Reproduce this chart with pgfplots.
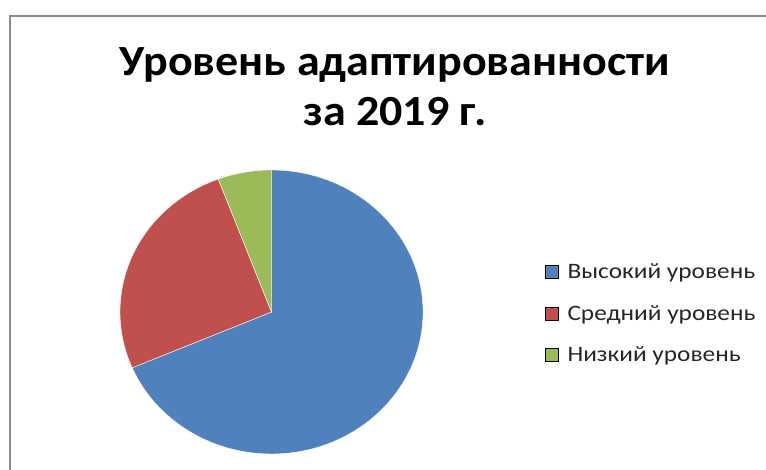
\documentclass[border=0pt]{standalone}
\usepackage{fontspec}
\setmainfont{Carlito}
\usepackage{graphicx}
\usepackage{pgfplots}
\usepackage{pgfplotstable}
\pgfplotsset{compat=1.18}

\definecolor{hiblue}{HTML}{4F81BD}
\definecolor{midred}{HTML}{C0504D}
\definecolor{logreen}{HTML}{9BBB59}

% adaptation levels, 2019 (number of children)
\pgfplotstableread{
level count
high 24
mid 9
low 2
}\adaptdata

\newcommand{\wide}[1]{\scalebox{1.07}[1]{#1}}
\newcommand{\legwide}[1]{\scalebox{1.15}[1]{#1}}

\begin{document}
\begin{tikzpicture}
\pgfplotstablegetelem{0}{count}\of\adaptdata \let\nHigh\pgfplotsretval
\pgfplotstablegetelem{1}{count}\of\adaptdata \let\nMid\pgfplotsretval
\pgfplotstablegetelem{2}{count}\of\adaptdata \let\nLow\pgfplotsretval
\pgfmathsetmacro\nTotal{\nHigh+\nMid+\nLow}
\pgfmathsetmacro\angA{90}
\pgfmathsetmacro\angB{\angA-360*\nHigh/\nTotal}
\pgfmathsetmacro\angC{\angB-360*\nMid/\nTotal}
\pgfmathsetmacro\angD{\angC-360*\nLow/\nTotal}
\path[use as bounding box] (0pt,0pt) rectangle (766pt,470pt);
\clip (0pt,0pt) rectangle (766pt,470pt);
\fill[white] (0pt,0pt) rectangle (766pt,470pt);
\draw[black!45, line width=1.8pt] (10pt,-5pt) -- (10pt,454pt) -- (775pt,454pt);
\node[anchor=base, inner sep=0pt, font=\fontsize{43}{50}\selectfont\bfseries]
  at (395pt,394pt) {\wide{Уровень адаптированности}};
\node[anchor=base, inner sep=0pt, font=\fontsize{43}{50}\selectfont\bfseries]
  at (395pt,344pt) {\wide{за 2019 г.}};
\begin{axis}[
  at={(271.5pt,158pt)}, anchor=center,
  scale only axis, width=303pt, height=284pt,
  xmin=-1, xmax=1, ymin=-1, ymax=1,
  enlargelimits=false, hide axis, clip=false,
  legend style={at={(1.403,0.495)}, anchor=west, draw=none, fill=none,
    inner sep=0pt, row sep=21pt, text=black!85,
    font=\fontsize{22}{25}\selectfont},
  legend cell align=left,
  legend image code/.code={\fill[#1] (0pt,-6.5pt) rectangle (13pt,6.5pt);
    \path[draw=none, fill=none] (0pt,0pt) rectangle (20pt,0.1pt);},
  ]
  \fill[hiblue, draw=white, line width=0.4pt] (axis cs:0,0)
    -- (axis cs:{cos(\angA)},{sin(\angA)})
    arc[start angle=\angA, end angle=\angB, x radius=151.5pt, y radius=142pt] -- cycle;
  \fill[midred, draw=white, line width=0.4pt] (axis cs:0,0)
    -- (axis cs:{cos(\angB)},{sin(\angB)})
    arc[start angle=\angB, end angle=\angC, x radius=151.5pt, y radius=142pt] -- cycle;
  \fill[logreen, draw=white, line width=0.4pt] (axis cs:0,0)
    -- (axis cs:{cos(\angC)},{sin(\angC)})
    arc[start angle=\angC, end angle=\angD, x radius=151.5pt, y radius=142pt] -- cycle;
  \addlegendimage{fill=hiblue}
  \addlegendentry{\legwide{Высокий уровень}}
  \addlegendimage{fill=midred}
  \addlegendentry{\legwide{Средний уровень}}
  \addlegendimage{fill=logreen}
  \addlegendentry{\legwide{Низкий уровень}}
\end{axis}
\end{tikzpicture}
\end{document}
